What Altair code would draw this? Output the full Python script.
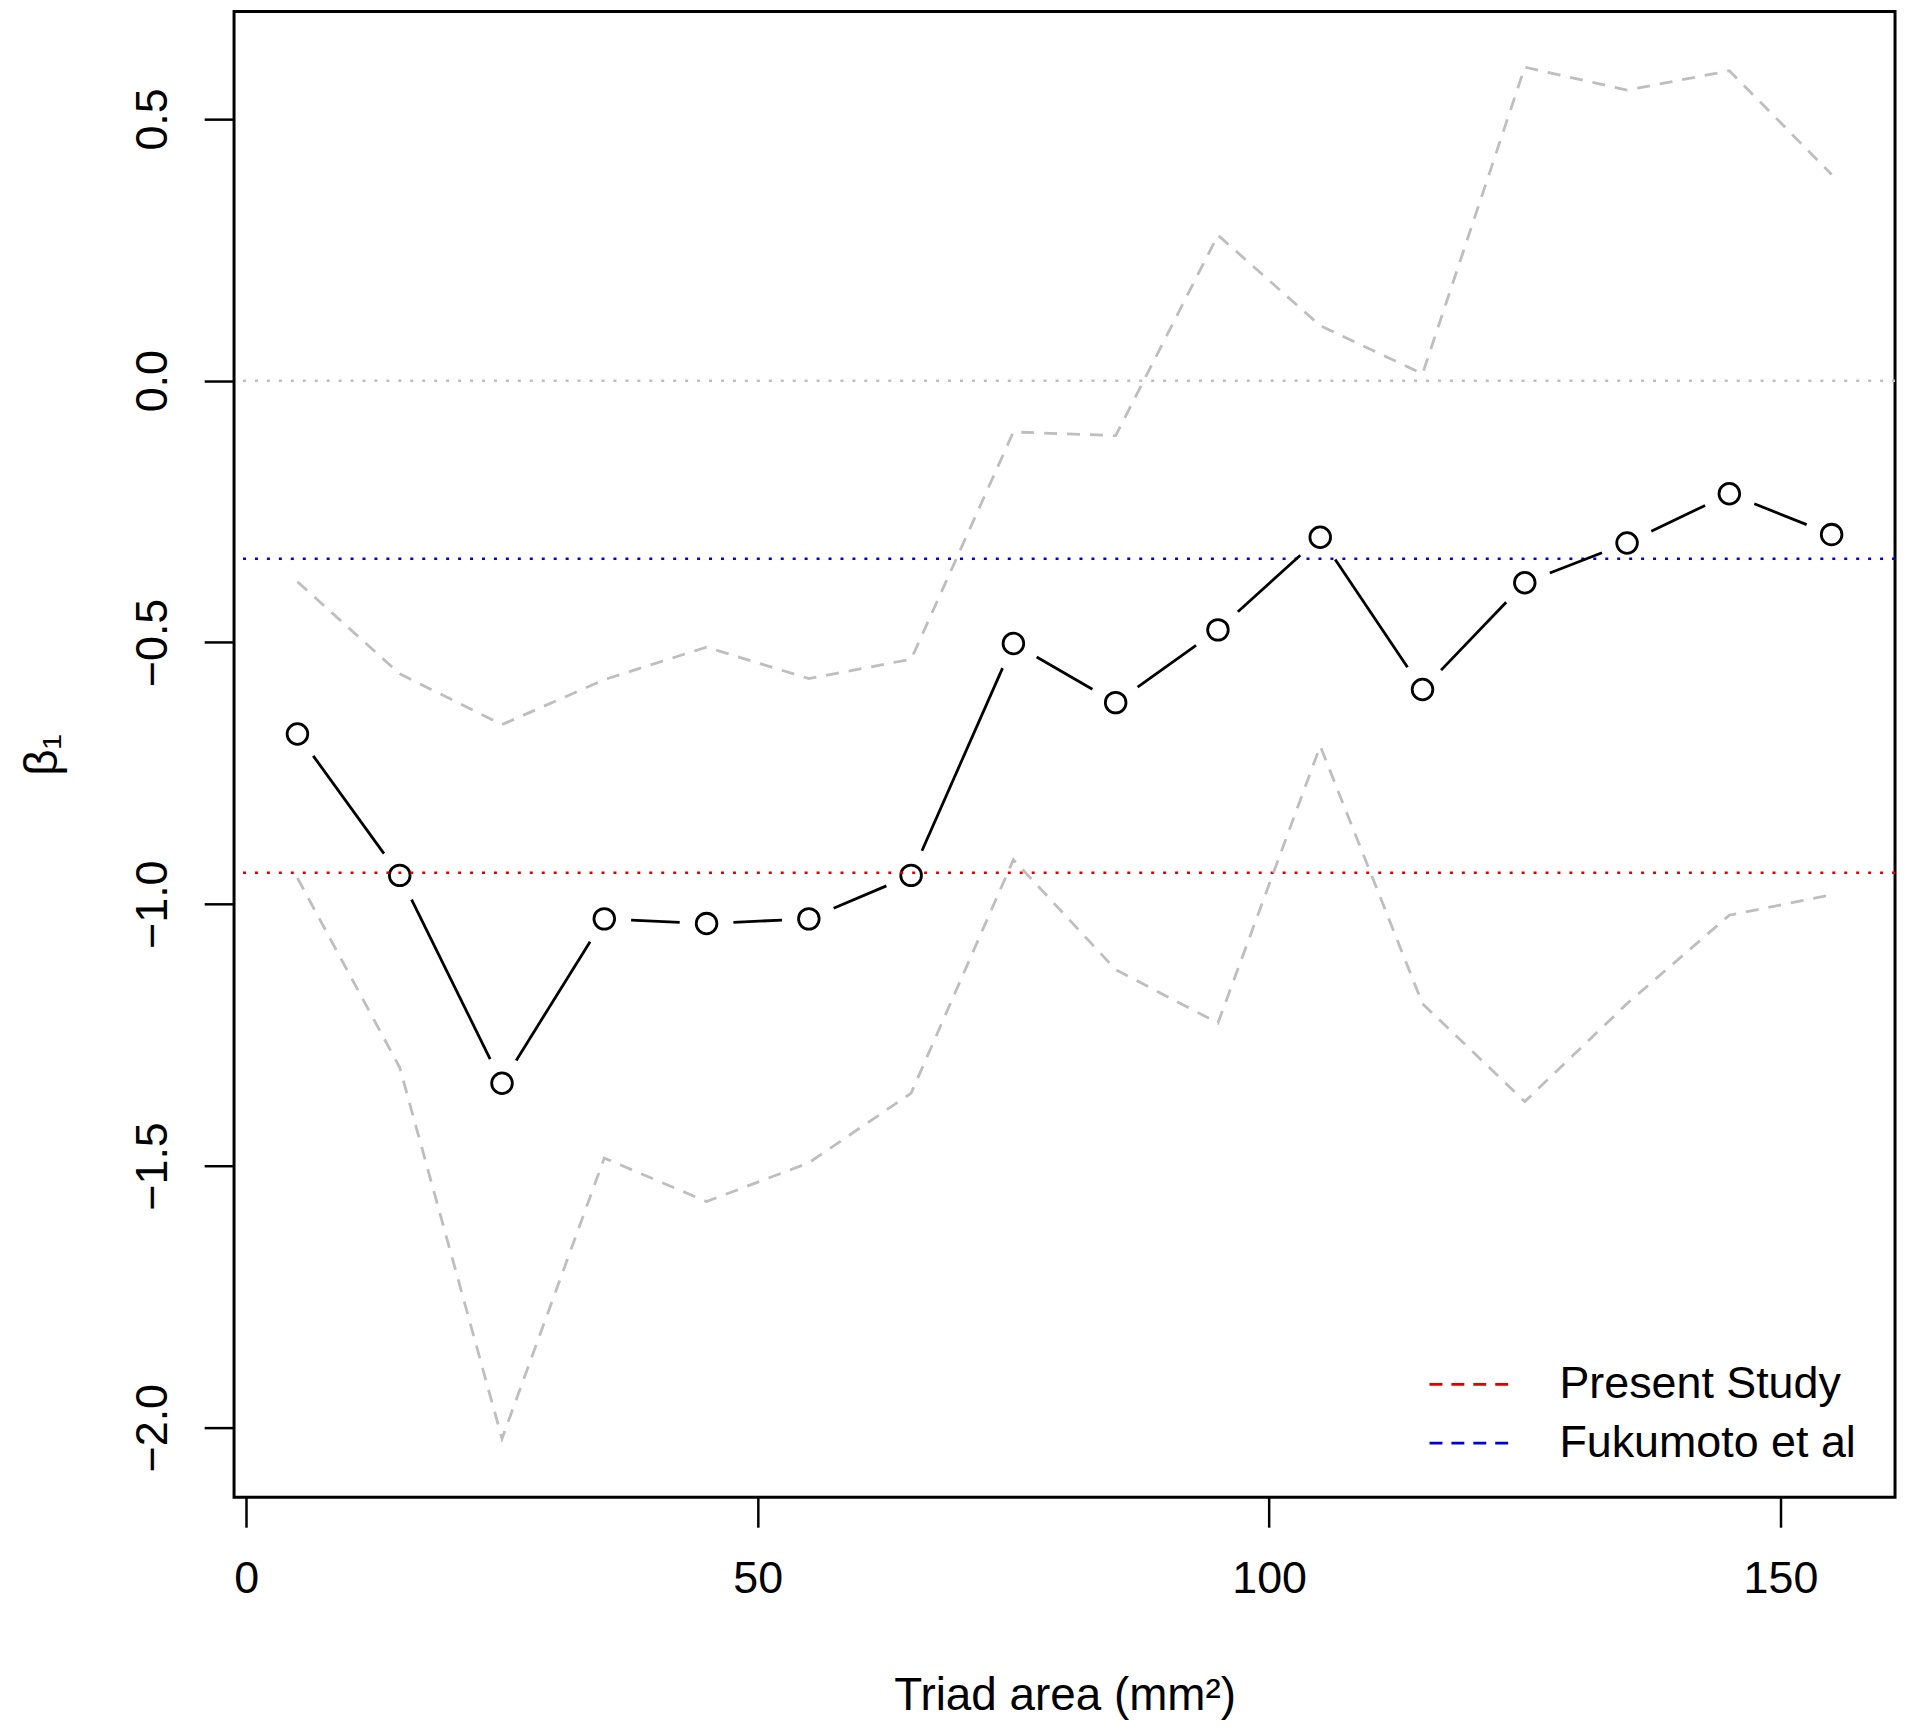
import math
import altair as alt
import pandas as pd

area = [5, 15, 25, 35, 45, 55, 65, 75, 85, 95, 105, 115, 125, 135, 145, 155]
beta = [-0.675, -0.945, -1.342, -1.028, -1.037, -1.028, -0.945, -0.502,
        -0.615, -0.476, -0.299, -0.590, -0.386, -0.310, -0.216, -0.294]
upper = [-0.384, -0.560, -0.657, -0.571, -0.509, -0.569, -0.532, -0.098,
         -0.105, 0.278, 0.105, 0.013, 0.599, 0.555, 0.592, 0.394]
lower = [-0.950, -1.312, -2.021, -1.485, -1.568, -1.494, -1.361, -0.915,
         -1.125, -1.227, -0.698, -1.190, -1.377, -1.190, -1.021, -0.982]

ref_names = ["Present Study", "Fukumoto et al"]
ref_values = [-0.94, -0.34]
ref_colors = ["#E00000", "#0000E0"]
zero_line = [0.0]

x_ticks = [0, 50, 100, 150]
y_ticks = [-2.0, -1.5, -1.0, -0.5, 0.0, 0.5]

W, H = 1668, 1492
XDOM = [-1.2, 161.2]
YDOM = [-2.133, 0.705]
GAP = 27  # R type="b": gap (px) between the line and each point

df = pd.DataFrame({"area": area, "beta": beta, "upper": upper, "lower": lower})
ref_df = pd.DataFrame({"name": ref_names, "value": ref_values})
zero_df = pd.DataFrame({"value": zero_line})

# line pieces between consecutive points, shortened so they stop short of each point
kx = W / (XDOM[1] - XDOM[0])
ky = H / (YDOM[1] - YDOM[0])
segs = []
for i in range(len(area) - 1):
    ddx = area[i + 1] - area[i]
    ddy = beta[i + 1] - beta[i]
    L = math.hypot(ddx * kx, ddy * ky)
    t = GAP / L
    segs.append({"x": area[i] + t * ddx, "y": beta[i] + t * ddy,
                 "x2": area[i + 1] - t * ddx, "y2": beta[i + 1] - t * ddy})
seg_df = pd.DataFrame(segs)

FONT = "Liberation Sans"

xscale = alt.Scale(domain=XDOM, nice=False, zero=False)
yscale = alt.Scale(domain=YDOM, nice=False, zero=False)

X = alt.X("area:Q", scale=xscale,
          axis=alt.Axis(values=x_ticks, title="Triad area (mm²)", format="d",
                        labelPadding=30, titlePadding=72))
Y = alt.Y("beta:Q", scale=yscale,
          axis=alt.Axis(values=y_ticks, title="β₁", format=".1f",
                        labelAngle=270, labelAlign="center", labelBaseline="alphabetic",
                        labelPadding=38, titlePadding=64))

base = alt.Chart(df)

points = base.mark_point(shape="circle", filled=False, color="black", size=430,
                         strokeWidth=2.8, opacity=1).encode(x=X, y=Y)

black_segs = alt.Chart(seg_df).mark_rule(color="black", strokeWidth=2.8).encode(
    x=alt.X("x:Q", scale=xscale), x2="x2:Q",
    y=alt.Y("y:Q", scale=yscale), y2="y2:Q")

up_line = base.mark_line(color="#BEBEBE", strokeWidth=2.8, strokeDash=[13, 10]).encode(
    x=alt.X("area:Q", scale=xscale), y=alt.Y("upper:Q", scale=yscale))
lo_line = base.mark_line(color="#BEBEBE", strokeWidth=2.8, strokeDash=[13, 10]).encode(
    x=alt.X("area:Q", scale=xscale), y=alt.Y("lower:Q", scale=yscale))

zero_rule = alt.Chart(zero_df).mark_rule(color="#BEBEBE", strokeWidth=2.5,
                                         strokeDash=[3, 9]).encode(
    y=alt.Y("value:Q", scale=yscale))
ref_rule = alt.Chart(ref_df).mark_rule(strokeWidth=2.5, strokeDash=[3, 9]).encode(
    y=alt.Y("value:Q", scale=yscale),
    color=alt.Color("name:N",
                    scale=alt.Scale(domain=ref_names, range=ref_colors),
                    legend=alt.Legend(title=None, orient="none", legendX=1220, legendY=1356,
                                      symbolType="M-2,0H2", symbolDash=[13, 9],
                                      symbolStrokeWidth=2.8, symbolSize=1764,
                                      labelFontSize=45, labelFont=FONT, labelColor="black",
                                      labelOffset=66, rowPadding=13, labelLimit=600)))

chart = alt.layer(points, zero_rule, ref_rule, up_line, lo_line, black_segs).properties(
    width=W, height=H,
    autosize=alt.AutoSizeParams(type="none"),
    padding={"left": 227, "top": 0, "right": 6, "bottom": 220},
).configure_view(stroke="black", strokeWidth=3).configure_axis(
    domain=False, grid=False, ticks=True, tickColor="black", tickWidth=2.5, tickSize=30,
    labelFont=FONT, labelFontSize=45, labelColor="black",
    titleFont=FONT, titleFontSize=46, titleColor="black", titleFontWeight="normal",
)

chart.save("out.html", embed_options={"renderer": "svg", "actions": False})
